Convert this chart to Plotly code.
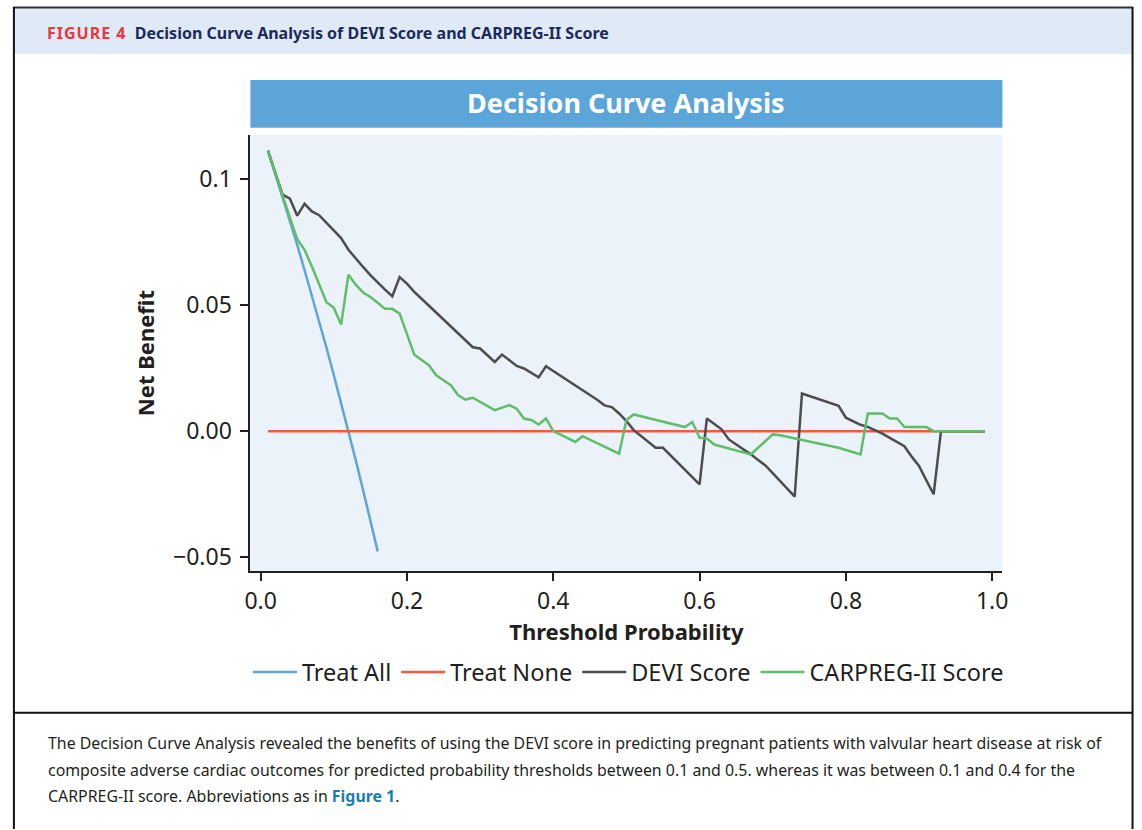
import plotly.graph_objects as go

# ---------------- data ----------------
thresholds = [
    0.01, 0.02, 0.03, 0.04, 0.05, 0.06, 0.07, 0.08, 0.09, 0.10,
    0.11, 0.12, 0.13, 0.14, 0.15, 0.16, 0.17, 0.18, 0.19, 0.20,
    0.21, 0.22, 0.23, 0.24, 0.25, 0.26, 0.27, 0.28, 0.29, 0.30,
    0.31, 0.32, 0.33, 0.34, 0.35, 0.36, 0.37, 0.38, 0.39, 0.40,
    0.41, 0.42, 0.43, 0.44, 0.45, 0.46, 0.47, 0.48, 0.49, 0.50,
    0.51, 0.52, 0.53, 0.54, 0.55, 0.56, 0.57, 0.58, 0.59, 0.60,
    0.61, 0.62, 0.63, 0.64, 0.65, 0.66, 0.67, 0.68, 0.69, 0.70,
    0.71, 0.72, 0.73, 0.74, 0.75, 0.76, 0.77, 0.78, 0.79, 0.80,
    0.81, 0.82, 0.83, 0.84, 0.85, 0.86, 0.87, 0.88, 0.89, 0.90,
    0.91, 0.92, 0.93, 0.94, 0.95, 0.96, 0.97, 0.98, 0.99,
]

treat_all_x = [0.01, 0.02, 0.03, 0.04, 0.05, 0.06, 0.07, 0.08,
               0.09, 0.10, 0.11, 0.12, 0.13, 0.14, 0.15, 0.16]
treat_all_y = [0.1111, 0.1020, 0.0928, 0.0833, 0.0737, 0.0638, 0.0538, 0.0435,
               0.0330, 0.0222, 0.0112, 0.0000, -0.0115, -0.0233, -0.0353, -0.0476]

treat_none_x = [0.01, 0.99]
treat_none_y = [0.0, 0.0]

devi_y = [
    0.1110, 0.1020, 0.0936, 0.0920, 0.0853, 0.0900, 0.0870, 0.0855, 0.0825, 0.0795,
    0.0764, 0.0718, 0.0683, 0.0650, 0.0618, 0.0588, 0.0560, 0.0534, 0.0610, 0.0584,
    0.0551, 0.0524, 0.0497, 0.0470, 0.0443, 0.0416, 0.0388, 0.0360, 0.0332, 0.0327,
    0.0300, 0.0274, 0.0303, 0.0280, 0.0258, 0.0248, 0.0232, 0.0213, 0.0257, 0.0238,
    0.0220, 0.0200, 0.0182, 0.0163, 0.0145, 0.0124, 0.0102, 0.0095, 0.0070, 0.0040,
    0.0004, -0.0019, -0.0043, -0.0066, -0.0066, -0.0095, -0.0124, -0.0153, -0.0182, -0.0211,
    0.0050, 0.0030, 0.0007, -0.0033, -0.0052, -0.0072, -0.0092, -0.0114, -0.0136, -0.0166,
    -0.0197, -0.0228, -0.0259, 0.0149, 0.0139, 0.0130, 0.0120, 0.0110, 0.0100, 0.0053,
    0.0038, 0.0025, 0.0017, 0.0004, -0.0010, -0.0027, -0.0044, -0.0060, -0.0101, -0.0138,
    -0.0195, -0.0250, 0.0000, 0.0000, 0.0000, 0.0000, 0.0000, 0.0000, 0.0000,
]

carpreg_y = [
    0.1110, 0.1020, 0.0935, 0.0845, 0.0760, 0.0718, 0.0652, 0.0580, 0.0510, 0.0488,
    0.0422, 0.0619, 0.0580, 0.0549, 0.0531, 0.0508, 0.0484, 0.0484, 0.0465, 0.0384,
    0.0303, 0.0282, 0.0261, 0.0221, 0.0202, 0.0182, 0.0142, 0.0125, 0.0132, 0.0115,
    0.0099, 0.0083, 0.0093, 0.0103, 0.0089, 0.0050, 0.0044, 0.0026, 0.0050, 0.0000,
    -0.0014, -0.0029, -0.0043, -0.0020, -0.0034, -0.0048, -0.0062, -0.0076, -0.0089, 0.0044,
    0.0066, 0.0059, 0.0052, 0.0045, 0.0038, 0.0031, 0.0024, 0.0016, 0.0036, -0.0026,
    -0.0029, -0.0053, -0.0061, -0.0069, -0.0077, -0.0085, -0.0092, -0.0066, -0.0040, -0.0013,
    -0.0016, -0.0022, -0.0028, -0.0034, -0.0040, -0.0046, -0.0052, -0.0058, -0.0066, -0.0075,
    -0.0084, -0.0092, 0.0070, 0.0070, 0.0070, 0.0050, 0.0050, 0.0016, 0.0016, 0.0016,
    0.0016, 0.0000, 0.0000, 0.0000, 0.0000, 0.0000, 0.0000, 0.0000, 0.0000,
]

x_ticks = [0.0, 0.2, 0.4, 0.6, 0.8, 1.0]
x_tick_labels = ["0.0", "0.2", "0.4", "0.6", "0.8", "1.0"]
y_ticks = [-0.05, 0.0, 0.05, 0.1]
y_tick_labels = ["\u22120.05", "0.00", "0.05", "0.1"]

series_names = ["Treat All", "Treat None", "DEVI Score", "CARPREG-II Score"]
series_colors = ["#5DA5DA", "#F15A40", "#4D4D4D", "#60BD68"]

# ---------------- layout helpers ----------------
W, H = 1142, 830


def px(x):
    return x / W


def py(y):
    return 1 - y / H


FONT = "Noto Sans"
TXT = "#231f20"

fig = go.Figure()

fig.add_trace(go.Scatter(x=treat_all_x, y=treat_all_y, mode="lines", name=series_names[0],
                         line=dict(color=series_colors[0], width=2.5)))
fig.add_trace(go.Scatter(x=treat_none_x, y=treat_none_y, mode="lines", name=series_names[1],
                         line=dict(color=series_colors[1], width=2.5)))
fig.add_trace(go.Scatter(x=thresholds, y=devi_y, mode="lines", name=series_names[2],
                         line=dict(color=series_colors[2], width=2.5)))
fig.add_trace(go.Scatter(x=thresholds, y=carpreg_y, mode="lines", name=series_names[3],
                         line=dict(color=series_colors[3], width=2.5)))

plot_l, plot_r, plot_t, plot_b = 247, 1007, 135, 572

shapes = [
    # header band
    dict(type="rect", xref="paper", yref="paper", x0=px(8), x1=px(1138), y0=py(54), y1=py(8),
         fillcolor="#DFEAF6", line=dict(width=0), layer="below"),
    # outer frame
    dict(type="line", xref="paper", yref="paper", x0=px(7), x1=px(1139), y0=py(7.5), y1=py(7.5),
         line=dict(color="#333333", width=2)),
    dict(type="line", xref="paper", yref="paper", x0=px(8), x1=px(8), y0=py(7), y1=py(830),
         line=dict(color="#111111", width=2)),
    dict(type="line", xref="paper", yref="paper", x0=px(1138.5), x1=px(1138.5), y0=py(7), y1=py(830),
         line=dict(color="#111111", width=2)),
    # divider
    dict(type="line", xref="paper", yref="paper", x0=px(8), x1=px(1138), y0=py(713.5), y1=py(713.5),
         line=dict(color="#111111", width=2)),
    # chart title bar
    dict(type="rect", xref="paper", yref="paper", x0=px(247), x1=px(1007), y0=py(128), y1=py(80),
         fillcolor="#5BA5D8", line=dict(width=0)),
]

annotations = [
    dict(xref="paper", yref="paper", x=px(39), y=py(33), xanchor="left", yanchor="middle",
         showarrow=False, align="left",
         text="<b><span style='color:#E8383D;letter-spacing:1px'>FIGURE 4</span></b>"
              "&nbsp;&nbsp;<b><span style='color:#1B2A5C'>Decision Curve Analysis of DEVI Score and CARPREG-II Score</span></b>",
         font=dict(family=FONT, size=16, color="#1B2A5C")),
    dict(xref="paper", yref="paper", x=px(627), y=py(103), xanchor="center", yanchor="middle",
         showarrow=False, text="<b>Decision Curve Analysis</b>",
         font=dict(family=FONT, size=27, color="white")),
    dict(xref="paper", yref="paper", x=px(40), y=py(744), xanchor="left", yanchor="middle",
         showarrow=False, align="left",
         text="The Decision Curve Analysis revealed the benefits of using the DEVI score in predicting pregnant patients with valvular heart disease at risk of",
         font=dict(family=FONT, size=15.9, color=TXT)),
    dict(xref="paper", yref="paper", x=px(40), y=py(771), xanchor="left", yanchor="middle",
         showarrow=False, align="left",
         text="composite adverse cardiac outcomes for predicted probability thresholds between 0.1 and 0.5. whereas it was between 0.1 and 0.4 for the",
         font=dict(family=FONT, size=15.9, color=TXT)),
    dict(xref="paper", yref="paper", x=px(40), y=py(797), xanchor="left", yanchor="middle",
         showarrow=False, align="left",
         text="CARPREG-II score. Abbreviations as in <b><span style='color:#1A7DB0'>Figure 1</span></b>.",
         font=dict(family=FONT, size=15.9, color=TXT)),
]

fig.update_layout(
    width=W, height=H,
    margin=dict(l=0, r=0, t=0, b=0),
    paper_bgcolor="white",
    plot_bgcolor="#EBF2FA",
    font=dict(family=FONT, color=TXT),
    shapes=shapes,
    annotations=annotations,
    showlegend=True,
    legend=dict(orientation="h", x=px(629), y=py(673), xanchor="center", yanchor="middle",
                font=dict(family=FONT, size=23.5, color=TXT), bgcolor="rgba(0,0,0,0)",
                itemwidth=44, tracegroupgap=0),
    xaxis=dict(
        domain=[px(plot_l), px(plot_r)],
        range=[-0.014, 1.014],
        tickvals=x_ticks, ticktext=x_tick_labels,
        showgrid=False, zeroline=False,
        showline=True, linecolor="#231f20", linewidth=2,
        ticks="outside", ticklen=8, tickwidth=2, tickcolor="#231f20",
        tickfont=dict(family=FONT, size=23, color=TXT),
        title=dict(text="<b>Threshold Probability</b>", font=dict(family=FONT, size=22, color=TXT),
                   standoff=10),
        anchor="y",
    ),
    yaxis=dict(
        domain=[py(plot_b), py(plot_t)],
        range=[-0.0555, 0.1173],
        tickvals=y_ticks, ticktext=y_tick_labels,
        showgrid=False, zeroline=False,
        showline=True, linecolor="#231f20", linewidth=2,
        ticks="outside", ticklen=8, tickwidth=2, tickcolor="#231f20",
        tickfont=dict(family=FONT, size=23, color=TXT),
        ticklabelstandoff=4,
        title=dict(text="<b>Net Benefit</b>", font=dict(family=FONT, size=22, color=TXT),
                   standoff=12),
        anchor="x",
    ),
)

fig.write_html("out.html")
